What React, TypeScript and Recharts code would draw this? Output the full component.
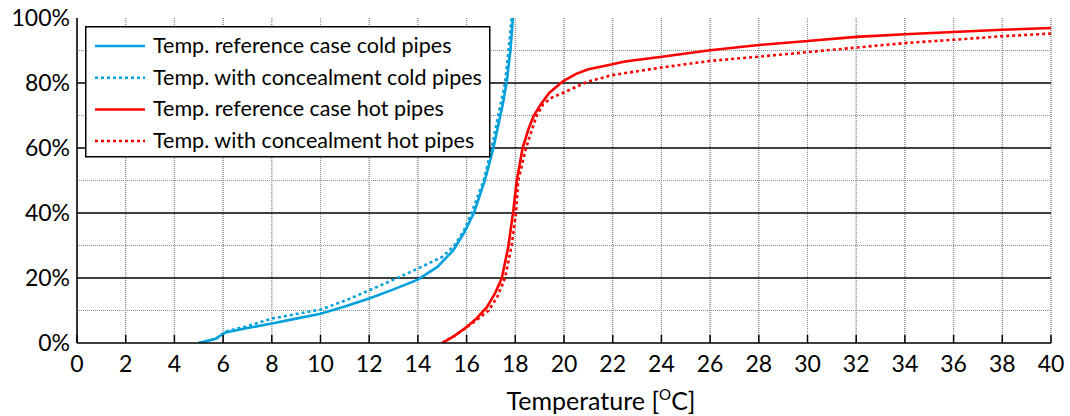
import { LineChart, Line, XAxis, YAxis, CartesianGrid, ReferenceLine } from 'recharts'

const FONT = "Lato, 'Open Sans', sans-serif"
const BLUE = '#00a0dc'
const RED = '#ff0000'

const xTicks = [0, 2, 4, 6, 8, 10, 12, 14, 16, 18, 20, 22, 24, 26, 28, 30, 32, 34, 36, 38, 40]
const yTicks = [0, 20, 40, 60, 80, 100]
const majorLines = [20, 40, 60, 80]
const minorLines = [10, 30, 50, 70, 90]
const rightTicks = [0, 10, 20, 30, 40, 50, 60, 70, 80, 90, 100]

// cumulative share of time (%) vs temperature (°C)
const coldRefTemp = [5.0, 5.7, 5.95, 6.1, 7, 8, 9, 10, 11, 12, 13, 14, 14.8, 15.45, 15.9, 16.3, 16.75, 17.1, 17.5, 17.65, 17.8, 17.9]
const coldRefPct = [0, 1.3, 2.6, 3.2, 4.6, 6.0, 7.5, 9.0, 11.2, 13.7, 16.5, 19.5, 23.4, 28.5, 34, 40, 50, 60, 74, 80.5, 90, 100]

const coldConTemp = [5.0, 5.7, 5.95, 6.1, 7, 8, 9, 10, 11, 12, 13, 14, 15, 15.5, 15.9, 16.2, 16.7, 17.03, 17.3, 17.58, 17.72, 17.85]
const coldConPct = [0, 1.3, 2.6, 3.5, 5.2, 7.5, 8.9, 10.3, 13, 16.2, 19.5, 22.9, 26.5, 30, 34.7, 40, 50, 60, 70, 80, 90, 100]

const hotRefTemp = [15.0, 15.5, 16.0, 16.4, 16.83, 17.15, 17.44, 17.71, 17.92, 18.06, 18.3, 18.55, 18.75, 19.05, 19.4, 19.97, 20.5, 21.0, 21.75, 22.5, 23.94, 26, 28, 30, 32, 34, 36, 38, 40]
const hotRefPct = [0, 2.2, 4.9, 7.5, 11, 15, 19.8, 29.5, 40.8, 50, 60, 66, 69.8, 73.5, 77, 80.6, 82.8, 84.2, 85.4, 86.6, 88, 90.1, 91.7, 92.9, 94.2, 95, 95.7, 96.4, 96.9]

const hotConTemp = [15.0, 15.5, 16.0, 16.45, 16.9, 17.25, 17.58, 17.85, 18.03, 18.12, 18.44, 18.7, 18.88, 19.15, 19.5, 19.97, 20.93, 21.96, 23.94, 26, 28, 30, 32, 34, 36, 38, 40]
const hotConPct = [0, 2.2, 4.8, 7.3, 10, 14, 20, 30, 40, 50, 60, 66, 70, 73.5, 75.5, 77, 80.3, 82.4, 84.7, 86.8, 88.1, 89.5, 90.9, 92.3, 93.3, 94.4, 95.2]

const toPoints = (temps: number[], pcts: number[]) => temps.map((t, i) => ({ t, p: pcts[i] }))

const series = [
  { name: 'Temp. reference case cold pipes', color: BLUE, dotted: false, data: toPoints(coldRefTemp, coldRefPct) },
  { name: 'Temp. with concealment cold pipes', color: BLUE, dotted: true, data: toPoints(coldConTemp, coldConPct) },
  { name: 'Temp. reference case hot pipes', color: RED, dotted: false, data: toPoints(hotRefTemp, hotRefPct) },
  { name: 'Temp. with concealment hot pipes', color: RED, dotted: true, data: toPoints(hotConTemp, hotConPct) },
]

function BottomTick({ x, y, payload }: any) {
  return (
    <g>
      <line x1={x} y1={y} x2={x} y2={y - 8} stroke="#000" strokeWidth={1.5} />
      <text x={x} y={y + 29} textAnchor="middle" fontSize={23} fontFamily={FONT} fill="#000">
        {payload.value}
      </text>
    </g>
  )
}

function TopTick({ x, y }: any) {
  return <line x1={x} y1={y} x2={x} y2={y + 8} stroke="#000" strokeWidth={1.5} />
}

function LeftTick({ x, y, payload }: any) {
  return (
    <text x={x - 7} y={y + 8} textAnchor="end" fontSize={23} fontFamily={FONT} fill="#000">
      {payload.value}%
    </text>
  )
}

function RightTick({ x, y }: any) {
  return <line x1={x} y1={y} x2={x - 6} y2={y} stroke="#000" strokeWidth={1} />
}

function LegendBox() {
  return (
    <svg width={406} height={132} style={{ position: 'absolute', left: 85, top: 26, display: 'block' }}>
      <rect x={0.75} y={0.75} width={404} height={130} fill="#fff" stroke="#000" strokeWidth={1.5} />
      {series.map((s, i) => {
        const cy = 20 + i * 31.7
        return (
          <g key={s.name}>
            <line x1={10} x2={60} y1={cy} y2={cy} stroke={s.color} strokeWidth={2.5}
              strokeDasharray={s.dotted ? '3 3' : undefined} />
            <text x={68} y={cy + 7} fontSize={21.5} fontFamily={FONT} fill="#000">{s.name}</text>
          </g>
        )
      })}
    </svg>
  )
}

export default function App() {
  return (
    <div style={{ position: 'absolute', left: 0, top: 0, width: 1070, height: 416, background: '#fff' }}>
      <LineChart width={1070} height={416} margin={{ top: 18, right: 19, bottom: 0, left: 0 }}>
        <CartesianGrid horizontal={false} vertical stroke="#808080" strokeDasharray="1 1" />
        {xTicks.map((v) => (
          <ReferenceLine key={'v' + v} x={v} stroke="#8a8a8a" strokeDasharray="1 1" />
        ))}
        {minorLines.map((v) => (
          <ReferenceLine key={'m' + v} y={v} stroke="#8a8a8a" strokeDasharray="1 1" />
        ))}
        {majorLines.map((v) => (
          <ReferenceLine key={'M' + v} y={v} stroke="#000" strokeWidth={1.5} />
        ))}
        <XAxis dataKey="t" type="number" domain={[0, 40]} ticks={xTicks} height={73}
          axisLine={{ stroke: '#000', strokeWidth: 1.5 }} tickLine={false} tickSize={0} tickMargin={0}
          tick={<BottomTick />} />
        <XAxis xAxisId="top" orientation="top" dataKey="t" type="number" domain={[0, 40]} ticks={xTicks}
          height={0} axisLine={{ stroke: '#000', strokeWidth: 1.5 }} tickLine={false} tickSize={0} tickMargin={0}
          tick={<TopTick />} />
        <YAxis type="number" domain={[0, 100]} ticks={yTicks} width={77} allowDataOverflow
          axisLine={{ stroke: '#000', strokeWidth: 1.5 }} tickLine={false} tickSize={0} tickMargin={0}
          tick={<LeftTick />} />
        <YAxis yAxisId="right" orientation="right" type="number" domain={[0, 100]} ticks={rightTicks}
          width={0} axisLine={{ stroke: '#000', strokeWidth: 1.5 }} tickLine={false} tickSize={0} tickMargin={0}
          tick={<RightTick />} />
        {series.map((s) => (
          <Line key={s.name} data={s.data} dataKey="p" name={s.name} type="linear" stroke={s.color}
            strokeWidth={2.6} strokeDasharray={s.dotted ? '3 3' : undefined} dot={false}
            isAnimationActive={false} />
        ))}
        <text x={601} y={410} textAnchor="middle" fontSize={25} fontFamily={FONT} fill="#000">
          Temperature [<tspan fontSize={15} dy={-10}>O</tspan><tspan dy={10}>C]</tspan>
        </text>
      </LineChart>
      <LegendBox />
    </div>
  )
}
